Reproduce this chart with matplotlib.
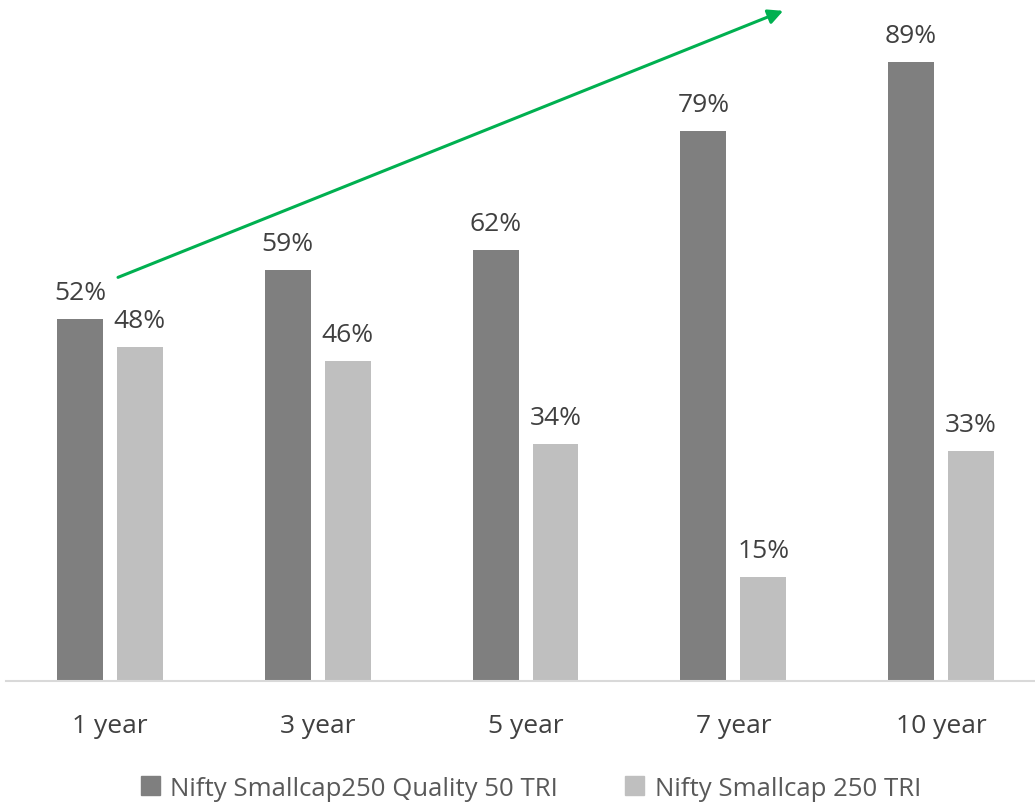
import numpy as np
import matplotlib.pyplot as plt
from matplotlib.patches import Patch

plt.rcParams['font.family'] = ['Open Sans', 'DejaVu Sans']

periods = ["1 year", "3 year", "5 year", "7 year", "10 year"]
quality = [52, 59, 62, 79, 89]
smallcap = [48, 46, 34, 15, 33]
series_names = ["Nifty Smallcap250 Quality 50 TRI", "Nifty Smallcap 250 TRI"]

dark = '#7f7f7f'
light = '#bfbfbf'
txt = '#404040'

fig = plt.figure(figsize=(10.35, 8.03), dpi=100)
ax = fig.add_axes([6 / 1035, 121 / 803, 1029 / 1035, 682 / 803])

x = np.arange(len(periods))
w = 0.221
off = 0.144
b1 = ax.bar(x - off, quality, w, color=dark)
b2 = ax.bar(x + off, smallcap, w, color=light)

for bars, vals in ((b1, quality), (b2, smallcap)):
    for r, v in zip(bars, vals):
        ax.text(r.get_x() + r.get_width() / 2, v + 2.0, f"{v}%",
                ha='center', va='bottom', fontsize=19, color=txt)

# green trend arrow
ax.annotate('', xy=(3.24, 96.3), xytext=(0.0385, 58.0),
            arrowprops=dict(arrowstyle='-|>', color='#00b050', lw=2.2,
                            mutation_scale=22, shrinkA=0, shrinkB=0))

ax.set_xlim(-0.5006, 4.452)
ax.set_ylim(0, 98)
ax.set_yticks([])
ax.set_xticks(x)
ax.set_xticklabels(periods, fontsize=19, color=txt)
ax.tick_params(axis='x', length=0, pad=23)
for s in ('top', 'right', 'left'):
    ax.spines[s].set_visible(False)
ax.spines['bottom'].set_color('#d9d9d9')
ax.spines['bottom'].set_linewidth(1.5)

handles = [Patch(color=dark), Patch(color=light)]
fig.legend(handles, series_names, loc='center', bbox_to_anchor=(0.513, 0.017),
           ncol=2, frameon=False, fontsize=18.5, labelcolor='#595959',
           handlelength=0.75, handleheight=0.75, columnspacing=2.6, handletextpad=0.4)

fig.savefig('out.png', dpi=100)
